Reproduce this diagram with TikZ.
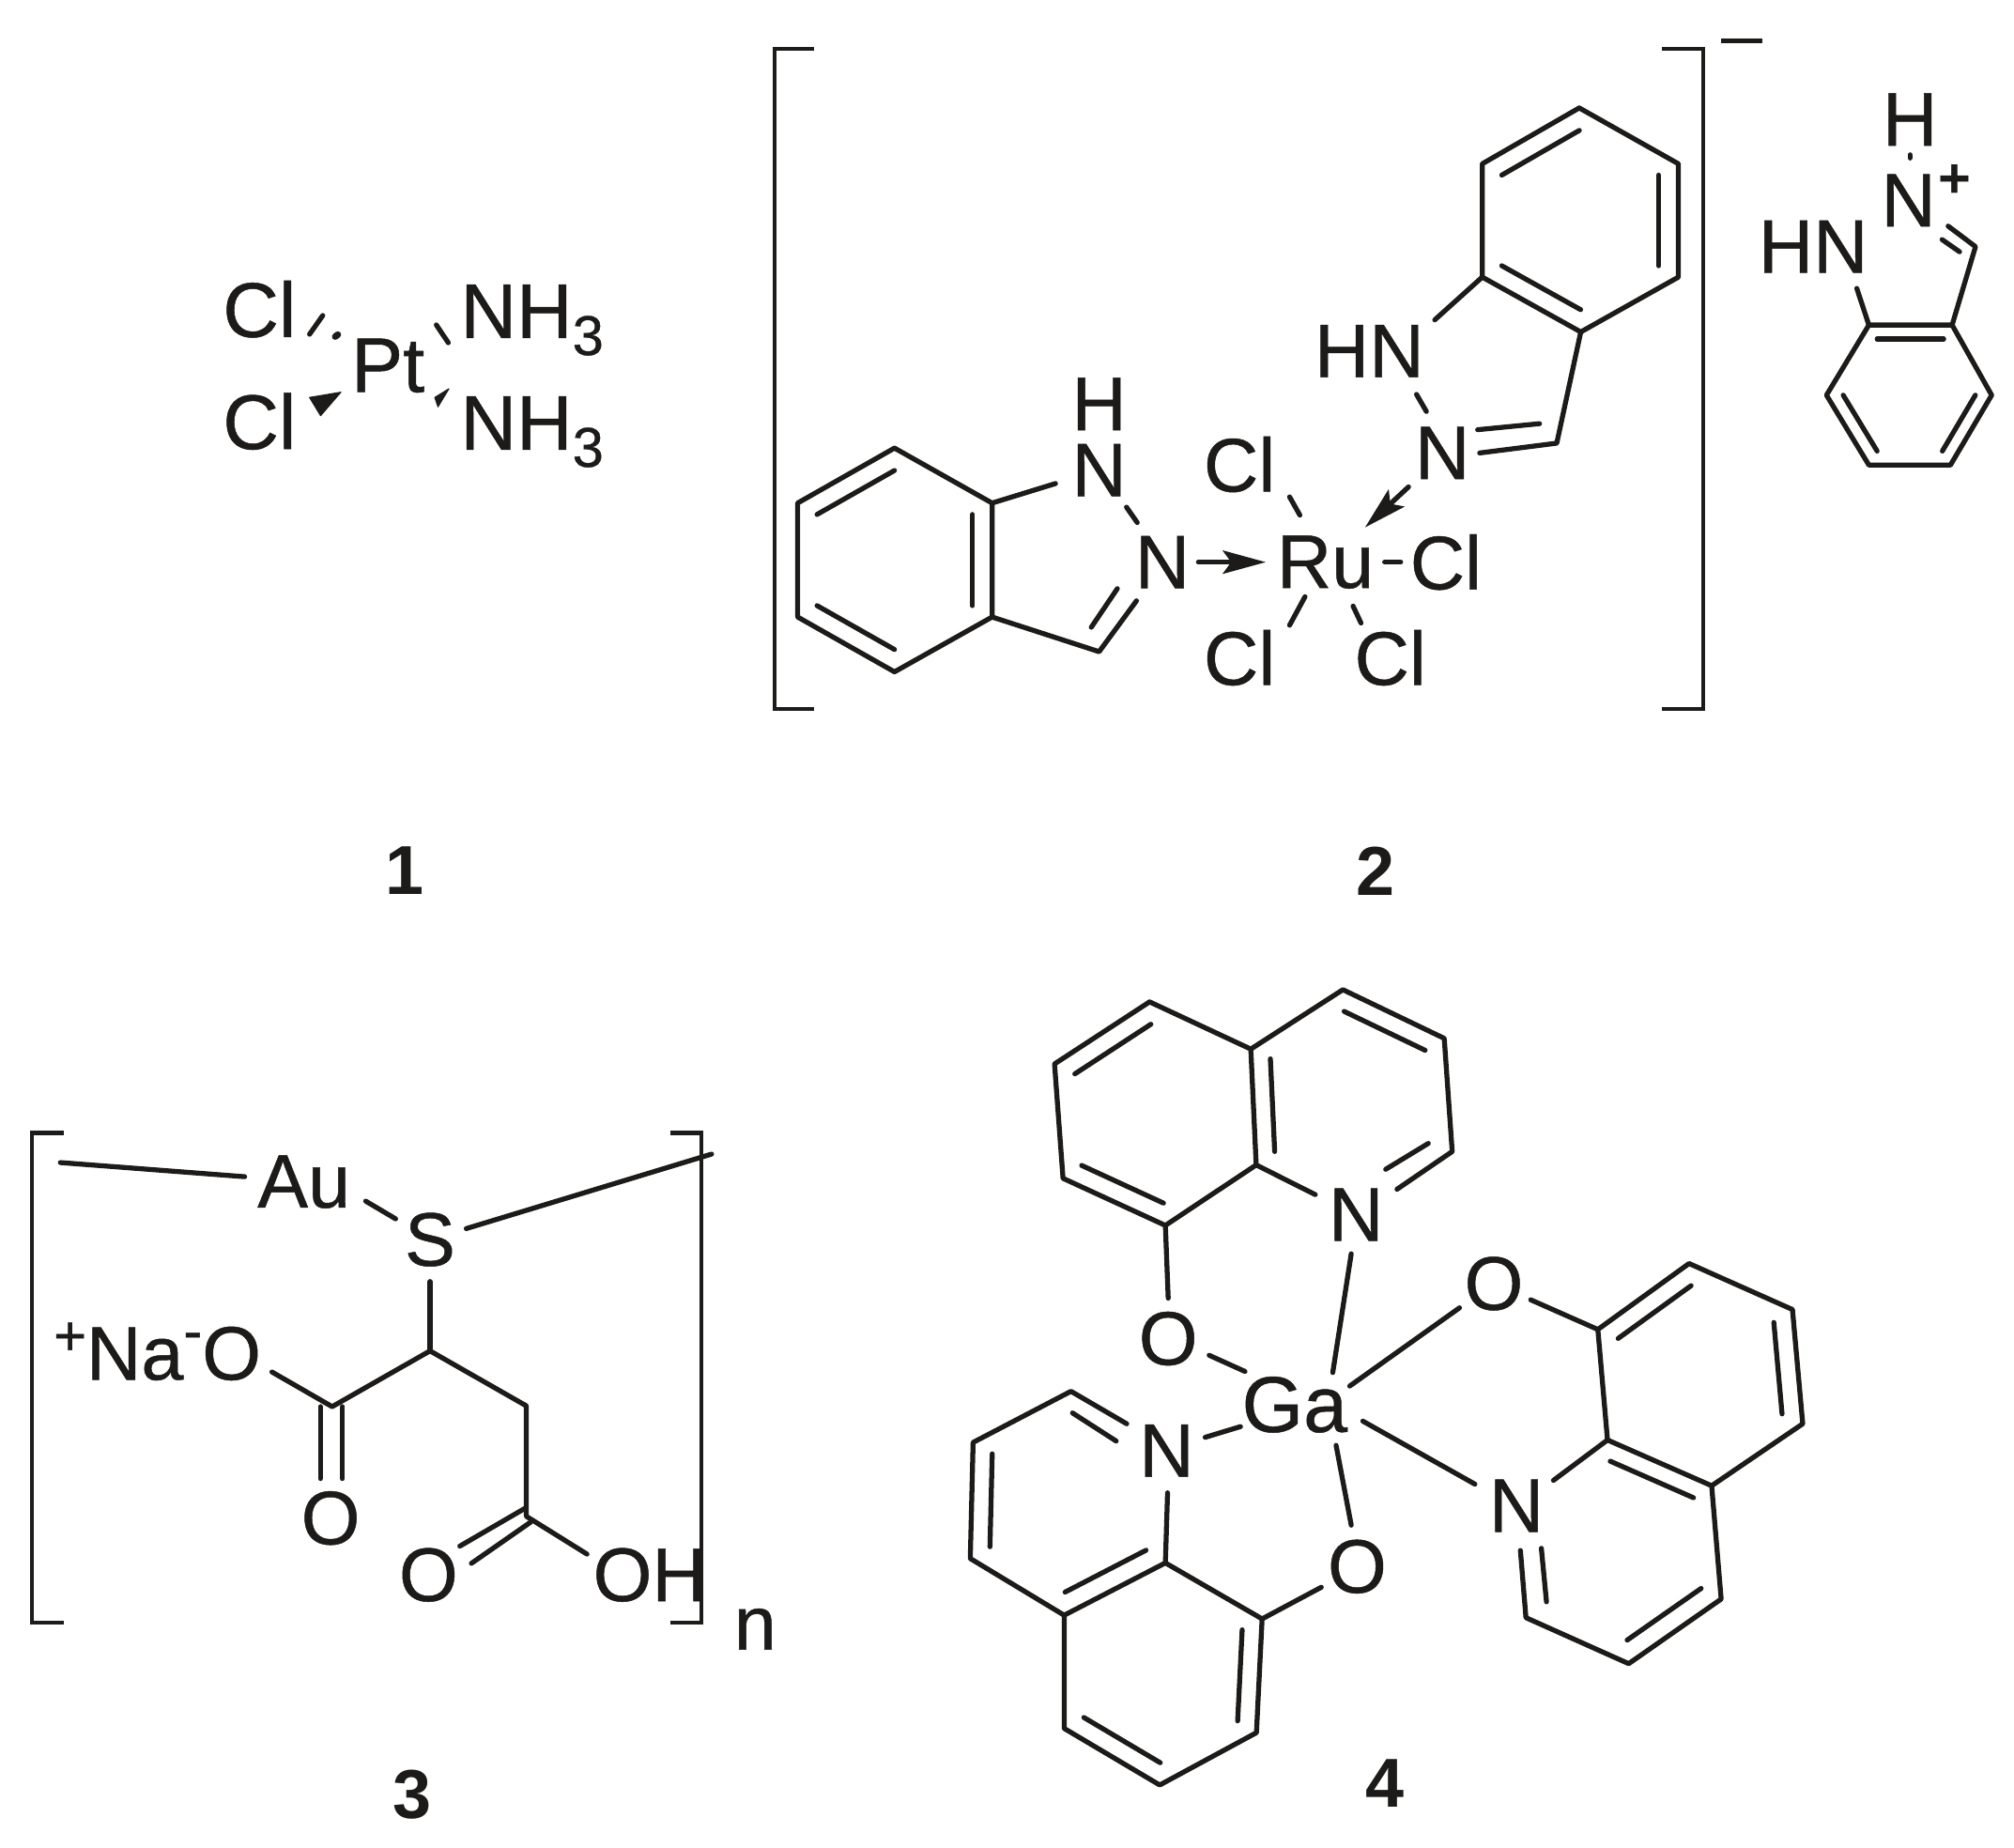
\documentclass[tikz,border=0pt]{standalone}
\usepackage{fontspec}
\setmainfont[FakeBold=0.6]{Liberation Sans}
\newfontfamily\numfont{Liberation Sans Bold}
\usetikzlibrary{calc,arrows.meta}
\definecolor{ink}{HTML}{1C1B19}
\newcommand{\dbl}[3]{\draw[bond] ($(#1)!0.2!(#3)$) -- ($(#2)!0.2!(#3)$);}
\newcommand{\sub}[1]{\raisebox{-5.2pt}{\fontsize{17}{19}\selectfont #1}}
\newcommand{\pts}[1]{\foreach \n/\x/\y in {#1}{\coordinate (\n) at (\x,\y);}}
\tikzset{
  bond/.style={draw=ink,line width=1.5pt,line cap=round,line join=round},
  brk/.style={draw=ink,line width=1.2pt},
  arrowbond/.style={bond,-{Stealth[length=13pt,width=7pt,inset=2.5pt]}},
  wedge/.style={fill=ink,draw=ink,line width=.3pt,line join=round},
  atomA/.style={inner sep=0pt,text=ink,font=\fontsize{23.5}{25}\selectfont},
  atomB/.style={inner sep=0pt,text=ink,font=\fontsize{23}{25}\selectfont},
  atomC/.style={inner sep=0pt,text=ink,font=\fontsize{24}{26}\selectfont},
  numlabel/.style={inner sep=0pt,text=ink,font=\fontsize{21}{23}\selectfont\numfont},
}
\begin{document}
\begin{tikzpicture}[x=0.01368cm,y=-0.01368cm]
\useasboundingbox (0,0) rectangle (1568,1438);
\fill[white] (0,0) rectangle (1568,1438);

% ---------- compound 1
\node[atomA] (pt) at (302,284.6) {Pt};
\node[atomA] (cl1) at (202,240.7) {Cl};
\node[atomA] (cl2) at (202,328) {Cl};
\node[atomA,anchor=base west] (nh1) at (358,263) {NH\sub{3}};
\node[atomA,anchor=base west] (nh2) at (358,350) {NH\sub{3}};
\pts{pa/241/260.2,pb/251.3/245.6,pc/261/262,pd/263/260.5,pe/241/309.4,pf/265.4/305.3,pg/249.6/323.6,
     ph/339.7/252.9,pi/349/266.8,pj/349.5/302.6,pk/338.5/309.4,pl/341/316.7}
\draw[bond] (pa) -- (pb);
\draw[bond,line width=2pt] (pc) -- (pd);
\draw[wedge] (pe) -- (pf) -- (pg) -- cycle;
\draw[bond] (ph) -- (pi);
\draw[wedge] (pj) -- (pk) -- (pl) -- cycle;
\node[numlabel] (n1) at (315,678) {1};

% ---------- compound 2: brackets
\pts{ba/634/38,bb/603/38,bc/603/552,bd/634/552,be/1294/38,bf/1326/38,bg/1326/552,bh/1294/552,bm/1340/32,bn/1372/32}
\draw[brk] (ba) -- (bb) -- (bc) -- (bd);
\draw[brk] (be) -- (bf) -- (bg) -- (bh);
\draw[brk,line width=1.4pt] (bm) -- (bn);

% lower indazole
\node[atomB] (ruN1) at (905,437.6) {N};
\node[atomB] (ruNH) at (855.7,366) {N};
\node[atomB] (ruH) at (855.7,314.5) {H};
\node[atomB] (ru) at (1031.8,437.6) {Ru};
\node[atomB] (rc1) at (1125.7,437.6) {Cl};
\node[atomB] (rc2) at (965,361.5) {Cl};
\node[atomB] (rc3) at (965,512) {Cl};
\node[atomB] (rc4) at (1082.4,512) {Cl};
\pts{A/696.4/348.8,B/621/391.6,C/621/480.3,D/696.4/523,E/772.4/480.3,F/772.4/391.6,Z/696.4/436,
     G/855.7/507.3,f1/821.8/376.4,f2/877/394.8,f3/885.4/406.8,f4/884.8/467.7,f5/869.9/458.2,f6/849.6/488.3,
     f7/933/437.6,f8/985.5/437.6,f9/1078/437.6,f10/1090.5/437.6,f11/1004/386.8,f12/1012/401,
     f13/1016/464.5,f14/1004/486.7,f15/1053.4/471.8,f16/1059.6/485}
\draw[bond] (A) -- (B) -- (C) -- (D) -- (E) -- (F) -- (A);
\dbl{A}{B}{Z} \dbl{C}{D}{Z} \dbl{E}{F}{Z}
\draw[bond] (E) -- (G) -- (f4);
\draw[bond] (f5) -- (f6);
\draw[bond] (F) -- (f1);
\draw[bond] (f2) -- (f3);
\draw[arrowbond] (f7) -- (f8);
\draw[bond] (f9) -- (f10);
\draw[bond] (f11) -- (f12);
\draw[bond] (f13) -- (f14);
\draw[bond] (f15) -- (f16);

% upper indazole
\node[atomB] (uN) at (1123,352.6) {N};
\node[atomB] (uHN) at (1066,273.3) {HN};
\pts{H1/1229.5/84,H2/1154/127.5,H3/1154/215.7,H4/1230.7/258.4,H5/1306.7/215.7,H6/1306.7/127.5,Y/1230/171.5,
     u1/1117/249,u2/1212/345,u3/1152/352.6,u4/1150.4/334.5,u5/1198.6/329.8,u6/1102.8/307,u7/1110.5/320.3,
     u8/1096.6/379,u9/1062.7/410.6}
\draw[bond] (H1) -- (H2) -- (H3) -- (H4) -- (H5) -- (H6) -- (H1);
\dbl{H1}{H2}{Y} \dbl{H3}{H4}{Y} \dbl{H5}{H6}{Y}
\draw[bond] (H3) -- (u1);
\draw[bond] (H4) -- (u2) -- (u3);
\draw[bond] (u4) -- (u5);
\draw[bond] (u6) -- (u7);
\draw[arrowbond] (u8) -- (u9);
\node[numlabel] (n2) at (1071,678) {2};

% cation
\node[atomB] (cH) at (1487,93) {H};
\node[atomB] (cN) at (1485.8,156) {N};
\node[inner sep=0pt,text=ink,font=\fontsize{17}{18}\selectfont\numfont] (cPlus) at (1521.6,141) {+};
\node[atomB] (cHN) at (1411.7,192) {HN};
\pts{J1/1455/253,J2/1519.8/253,J3/1550.6/307.6,J4/1518.5/362,J5/1455/362,J6/1422/307.6,X/1487/307.6,
     c1/1538/192,c2/1516.7/176,c3/1512/186.5,c4/1525.6/196,c5/1445.6/224.5,c6/1487/120.5,c7/1487/123}
\draw[bond] (J1) -- (J2) -- (J3) -- (J4) -- (J5) -- (J6) -- (J1);
\dbl{J1}{J2}{X} \dbl{J5}{J6}{X} \dbl{J3}{J4}{X}
\draw[bond] (c5) -- (J1);
\draw[bond] (J2) -- (c1) -- (c2);
\draw[bond] (c3) -- (c4);
\draw[bond] (c6) -- (c7);

% ---------- compound 3
\pts{k1/50/882,k2/25/882,k3/25/1263,k4/50/1263,k5/522/882,k6/546/882,k7/546/1263,k8/522/1263}
\draw[brk] (k1) -- (k2) -- (k3) -- (k4);
\draw[brk] (k5) -- (k6) -- (k7) -- (k8);
\node[atomB] (au) at (236.6,920) {Au};
\node[atomB] (sS) at (334.8,965) {S};
\node[atomB,anchor=base west] (na) at (41.3,1074) {\raisebox{7.5pt}{\fontsize{17}{18}\selectfont +}Na\raisebox{9pt}{\fontsize{17}{18}\selectfont -}O};
\node[atomB] (o3a) at (257.4,1181.8) {O};
\node[atomB] (o3b) at (333.6,1226) {O};
\node[atomB] (oh) at (506,1226) {OH};
\node[atomB,anchor=base west] (nn) at (571,1284) {n};
\pts{m1/47/905,m2/190.5/916,m3/363/956.4,m4/554/898.4,m5/284.7/935,m6/308/948.8,m7/334.8/997.6,
     C1/334.8/1051.6,C2/258.6/1095,C3/409.8/1094.4,C4/409.8/1180.4,m8/211.7/1068,
     m9/249.4/1095,m10/249.4/1151,m11/266.7/1095,m12/266.7/1151,
     m13/409/1174,m14/358/1203.6,m15/413/1185,m16/367/1217,m17/457/1209.8}
\draw[bond] (m1) -- (m2);
\draw[bond] (m3) -- (m4);
\draw[bond] (m5) -- (m6);
\draw[bond] (m7) -- (C1);
\draw[bond] (m8) -- (C2) -- (C1) -- (C3) -- (C4) -- (m17);
\draw[bond] (m9) -- (m10);
\draw[bond] (m11) -- (m12);
\draw[bond] (m13) -- (m14);
\draw[bond] (m15) -- (m16);
\node[numlabel] (n3) at (321,1397) {3};

% ---------- compound 4
\begin{scope}[shift={(0,760)},yscale=0.9474,shift={(0,-760)}]
\node[atomC] (ga) at (1007.9,1112) {Ga};
\node[atomB] (N1) at (1055.7,955.8) {N};
\node[atomB] (O1) at (909.5,1057.7) {O};
\node[atomB] (O2) at (1163,1012.5) {O};
\node[atomB] (N3) at (1180.6,1195) {N};
\node[atomB] (N2) at (908.2,1149.8) {N};
\node[atomB] (O3) at (1056.6,1245) {O};
% top quinoline
\pts{a/895/781,b/821/832,c/827.6/926,d/907.3/964.7,e/978/915,f/973.8/819.8,g/1045.5/771,h/1124.4/811,i/1130.6/904,
     rA/900/873,rB/1050/860,
     t1/1087.6/935,t2/1024/939.4,t3/1112/897.3,t4/1078.8/918.6,
     t5/909.5/1024.5,t6/941.4/1071.4,t7/969.3/1084.7,t8/1052/988,t9/1037.6/1085.6,
     t10/1050.8/1096.7,t11/1136.3/1032.4,t12/1061/1125.5,t13/1148.3/1177.3,
     t14/965.8/1130,t15/938.3/1138.8,t16/1040.2/1145.4,t17/1052/1211}
\draw[bond] (a) -- (b) -- (c) -- (d) -- (e) -- (f) -- (a);
\draw[bond] (f) -- (g) -- (h) -- (i) -- (t1);
\draw[bond] (e) -- (t2);
\dbl{a}{b}{rA} \dbl{c}{d}{rA} \dbl{e}{f}{rB} \dbl{g}{h}{rB}
\draw[bond] (t3) -- (t4);
\draw[bond] (d) -- (t5);
\draw[bond] (t6) -- (t7);
\draw[bond] (t8) -- (t9);
\draw[bond] (t10) -- (t11);
\draw[bond] (t12) -- (t13);
\draw[bond] (t14) -- (t15);
\draw[bond] (t16) -- (t17);
% right quinoline
\pts{j/1244/1050.2,kk/1315/996,l/1395.5/1033.8,mm/1403.5/1127.7,nq/1332.6/1178.6,oo/1251.5/1141,
     pp/1188/1287,qq/1268/1324.8,rr/1340/1271.7,rC/1323/1087,rD/1262/1228,
     v1/1191.7/1025.8,v2/1209.4/1174.2,v3/1183.7/1231.8,v5/1200/1230,v6/1204/1274}
\draw[bond] (v1) -- (j) -- (kk) -- (l) -- (mm) -- (nq) -- (oo) -- (j);
\draw[bond] (oo) -- (v2);
\draw[bond] (v3) -- (pp) -- (qq) -- (rr) -- (nq);
\dbl{j}{kk}{rC} \dbl{l}{mm}{rC} \dbl{oo}{nq}{rD} \dbl{qq}{rr}{rD}
\draw[bond] (v5) -- (v6);
% left quinoline
\pts{ss/833.8/1101,tt/757.6/1143,uu/755.4/1238.4,vv/828.5/1285,ww/907.3/1242,xx/982.6/1288,yy/978.2/1381.5,zz/902.9/1424.5,yz/828.5/1378,
     rE/832/1190,rF/905/1333,
     w1/877.2/1127.7,w2/835/1118.8,w3/869/1141.9,w4/909/1184.4,w5/1028.7/1262}
\draw[bond] (w1) -- (ss) -- (tt) -- (uu) -- (vv) -- (ww) -- (w4);
\draw[bond] (vv) -- (yz) -- (zz) -- (yy) -- (xx) -- (ww);
\draw[bond] (xx) -- (w5);
\draw[bond] (w2) -- (w3);
\dbl{tt}{uu}{rE} \dbl{vv}{ww}{rE} \dbl{xx}{yy}{rF} \dbl{yz}{zz}{rF}
\end{scope}
\node[numlabel] (n4) at (1078,1388) {4};
\end{tikzpicture}
\end{document}
